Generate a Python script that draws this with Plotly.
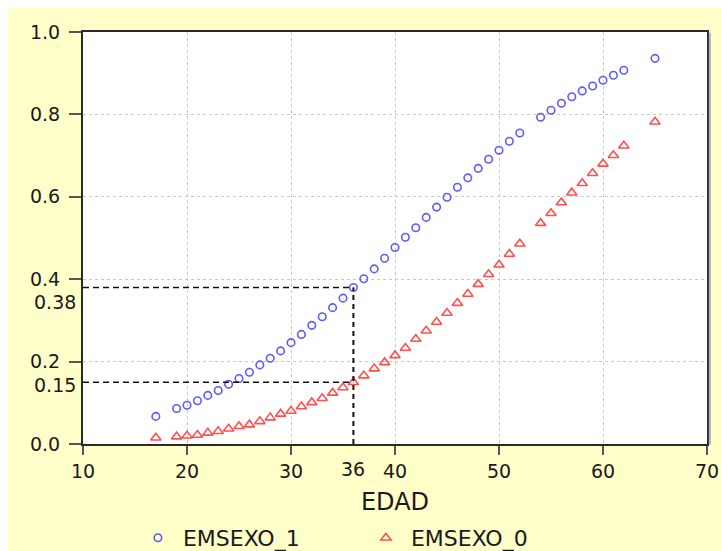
import plotly.graph_objects as go

# Age (EDAD) and estimated probabilities by sex
edad = [17, 19, 20, 21, 22, 23, 24, 25, 26, 27, 28, 29, 30, 31, 32, 33, 34, 35,
        36, 37, 38, 39, 40, 41, 42, 43, 44, 45, 46, 47, 48, 49, 50, 51, 52,
        54, 55, 56, 57, 58, 59, 60, 61, 62, 65]
emsexo_1 = [0.067, 0.086, 0.094, 0.105, 0.118, 0.130, 0.145, 0.159, 0.174, 0.192,
            0.208, 0.226, 0.246, 0.266, 0.288, 0.309, 0.331, 0.354, 0.380, 0.401,
            0.425, 0.451, 0.477, 0.502, 0.525, 0.550, 0.575, 0.599, 0.623, 0.646,
            0.669, 0.691, 0.713, 0.735, 0.755, 0.793, 0.810, 0.827, 0.843, 0.857,
            0.869, 0.883, 0.895, 0.907, 0.936]
emsexo_0 = [0.015, 0.018, 0.020, 0.022, 0.027, 0.031, 0.037, 0.043, 0.047, 0.055,
            0.064, 0.073, 0.080, 0.091, 0.101, 0.111, 0.124, 0.137, 0.150, 0.166,
            0.183, 0.198, 0.215, 0.233, 0.255, 0.275, 0.296, 0.318, 0.342, 0.364,
            0.388, 0.412, 0.435, 0.461, 0.486, 0.536, 0.560, 0.586, 0.610, 0.633,
            0.657, 0.680, 0.701, 0.724, 0.782]

# Reference age and the two probabilities read at that age
ref_edad = 36
ref_p1 = 0.38
ref_p0 = 0.15

x_ticks = [10, 20, 30, 40, 50, 60, 70]
y_ticks = [0.0, 0.2, 0.4, 0.6, 0.8, 1.0]
y_tick_text = ["0.0", "0.2", "0.4", "0.6", "0.8", "1.0"]

FONT = "DejaVu Sans"
INK = "#1a1a1a"
YELLOW = "#FFFFC9"
TICK_SIZE = 19

fig = go.Figure()

fig.add_trace(go.Scatter(
    x=edad, y=emsexo_1, mode="markers", name="EMSEXO_1",
    marker=dict(symbol="circle-open", size=7.5, color="#5c5cff",
                line=dict(width=1.6, color="#5c5cff")),
))
fig.add_trace(go.Scatter(
    x=edad, y=emsexo_0, mode="markers", name="EMSEXO_0",
    marker=dict(symbol="triangle-up-open", size=9, color="#ff5050",
                line=dict(width=1.6, color="#ff5050")),
))

dash_style = dict(color="#111111", width=1.5, dash="6px,4px")
x_min = x_ticks[0]
shapes = [
    # reference lines at the chosen age
    dict(type="line", xref="x", yref="y", x0=x_min, x1=ref_edad, y0=ref_p1, y1=ref_p1, line=dash_style),
    dict(type="line", xref="x", yref="y", x0=x_min, x1=ref_edad, y0=ref_p0, y1=ref_p0, line=dash_style),
    dict(type="line", xref="x", yref="y", x0=ref_edad, x1=ref_edad, y0=0, y1=ref_p1,
         line=dict(color="#111111", width=2, dash="5px,4px")),
    # white page border above and left of the yellow panel
    dict(type="rect", xref="paper", yref="paper", x0=-0.2, x1=1.1, y0=1.0585, y1=1.2,
         fillcolor="white", line=dict(width=0), layer="below"),
    dict(type="rect", xref="paper", yref="paper", x0=-0.2, x1=-0.121, y0=-0.4, y1=1.2,
         fillcolor="white", line=dict(width=0), layer="below"),
    # drop shadow along the right edge of the frame
    dict(type="line", xref="paper", yref="paper", x0=1.0045, x1=1.0045, y0=-0.002, y1=0.998,
         line=dict(color="#b0b0b0", width=2)),
]

annotations = [
    dict(text=str(ref_p1), xref="paper", yref="y", x=0, y=ref_p1, xanchor="right",
         yanchor="middle", xshift=-5, yshift=-15, showarrow=False,
         font=dict(family=FONT, size=TICK_SIZE, color=INK)),
    dict(text=str(ref_p0), xref="paper", yref="y", x=0, y=ref_p0, xanchor="right",
         yanchor="middle", xshift=-5, yshift=-3, showarrow=False,
         font=dict(family=FONT, size=TICK_SIZE, color=INK)),
    dict(text=str(ref_edad), xref="x", yref="paper", x=ref_edad, y=0, xanchor="center",
         yanchor="middle", yshift=-25, showarrow=False,
         font=dict(family=FONT, size=TICK_SIZE, color=INK)),
]

fig.update_layout(
    width=721, height=551,
    margin=dict(l=83, r=14, t=32, b=107, pad=0, autoexpand=False),
    paper_bgcolor=YELLOW, plot_bgcolor="white",
    font=dict(family=FONT, size=TICK_SIZE, color=INK),
    shapes=shapes, annotations=annotations,
    showlegend=True,
    legend=dict(orientation="h", x=0.08, xanchor="left", y=-0.228, yanchor="middle",
                bgcolor="rgba(0,0,0,0)", font=dict(family=FONT, size=22, color=INK),
                itemwidth=40, entrywidth=173),
)

fig.update_xaxes(
    range=[10, 70], tickvals=x_ticks, ticks="outside", ticklen=9, tickwidth=1.5,
    tickcolor="#555555", showline=True, mirror=True, linewidth=2, linecolor="#2a2a2a",
    showgrid=True, gridcolor="#c8c8c8", griddash="dot", gridwidth=1, zeroline=False,
    automargin=False, tickfont=dict(family=FONT, size=TICK_SIZE, color=INK),
    title=dict(text="EDAD", font=dict(family=FONT, size=24, color=INK), standoff=12),
)
fig.update_yaxes(
    range=[0, 1], tickvals=y_ticks, ticktext=y_tick_text, ticks="outside", ticklen=12,
    tickwidth=1.5, tickcolor="#555555", showline=True, mirror=True, linewidth=2,
    linecolor="#2a2a2a", showgrid=True, gridcolor="#c8c8c8", griddash="dot", gridwidth=1,
    zeroline=False, automargin=False, tickfont=dict(family=FONT, size=TICK_SIZE, color=INK),
    ticklabelstandoff=5,
)

fig.write_html("out.html")
